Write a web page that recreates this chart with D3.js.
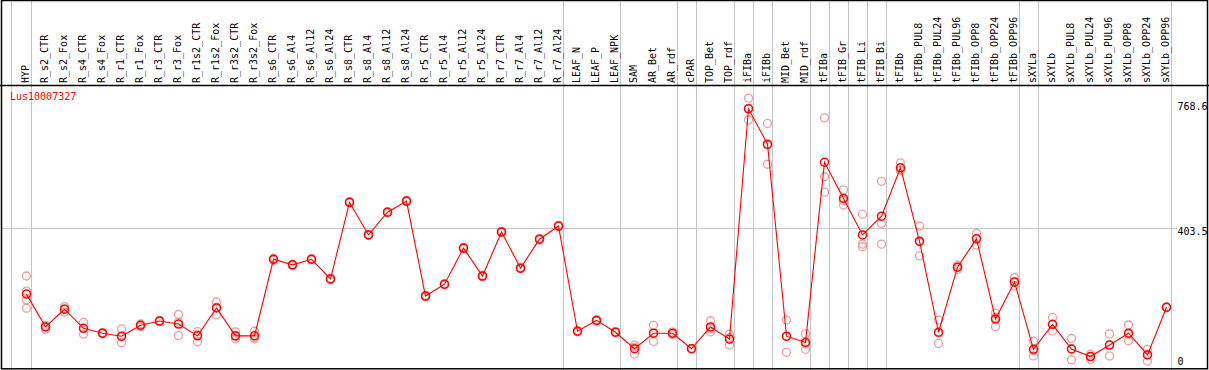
<!DOCTYPE html>
<html><head><meta charset="utf-8">
<script src="https://cdn.jsdelivr.net/npm/d3@7/dist/d3.min.js"></script>
<style>
html,body{margin:0;padding:0;background:#fff;}
svg{display:block;}
text{font-family:"DejaVu Sans Mono","Liberation Mono",monospace;font-size:10px;}
</style></head>
<body>
<script>
const geneName = "Lus10007327";
const categories = ["HYP","R_s2_CTR","R_s2_Fox","R_s4_CTR","R_s4_Fox","R_r1_CTR","R_r1_Fox","R_r3_CTR","R_r3_Fox","R_r1s2_CTR","R_r1s2_Fox","R_r3s2_CTR","R_r3s2_Fox","R_s6_CTR","R_s6_Al4","R_s6_Al12","R_s6_Al24","R_s8_CTR","R_s8_Al4","R_s8_Al12","R_s8_Al24","R_r5_CTR","R_r5_Al4","R_r5_Al12","R_r5_Al24","R_r7_CTR","R_r7_Al4","R_r7_Al12","R_r7_Al24","LEAF_N","LEAF_P","LEAF_NPK","SAM","AR_Bet","AR_rdf","cPAR","TOP_Bet","TOP_rdf","iFIBa","iFIBb","MID_Bet","MID_rdf","tFIBa","tFIB_Gr","tFIB_Li","tFIB_Bi","tFIBb","tFIBb_PUL8","tFIBb_PUL24","tFIBb_PUL96","tFIBb_OPP8","tFIBb_OPP24","tFIBb_OPP96","sXYLa","sXYLb","sXYLb_PUL8","sXYLb_PUL24","sXYLb_PUL96","sXYLb_OPP8","sXYLb_OPP24","sXYLb_OPP96"];
const means = [205,105,159,101,86,77,110,123,114,78,163,78,78,311,294,311,251,484,385,454,488,199,235,345,260,394,284,372,412,92,125,89,39,86,86,39,105,68,768.6,661,77,58,606,496,385,442,589,366,89,287,373,129,242,37,113,38,15,50,86,20,165];
const replicates = [
 [260,214,187,162],[110,98,107],[167,160,150],[119,101,83],[88,84,86],[99,75,57],[114,106,110],[125,121,123],[143,120,79],[91,82,60],[181,165,142],[90,70,76],[92,70,74],
 [314,308,311],[296,291,294],[313,309,311],[253,249,251],[486,482,484],[387,383,385],[456,452,454],[490,486,488],[201,197,199],[237,233,235],[347,343,345],[262,258,260],[396,392,394],[286,282,284],[374,370,372],[414,410,412],
 [94,90,92],[127,123,125],[91,87,89],[50,23,44],[110,86,61],[90,82,85],[40,38,39],[124,100,90],[83,72,50],
 [801,770,735],[724,658,600],[126,76,28],[84,53,37],[741,562,515],[522,490,476],[448,357,349],[548,420,357],
 [604,582,583],[412,364,321],[126,86,55],[293,280,287],[390,374,354],[147,134,106],[255,241,230],
 [62,33,17],[134,113,93],[70,39,5],[22,15,6],[84,50,17],[111,83,63],[37,22,1],[166,164,165]
];
const groupEnds = [0,28,31,34,35,37,38,39,41,42,43,44,45,52,53,60];
const yTicks = [0, 403.5, 768.6];
const yTickLabels = ["0","403.5","768.6"];
const gridValue = 403.5;

const W = 1209, H = 370;
const svg = d3.select("body").append("svg").attr("width", W).attr("height", H);

const x = d3.scalePoint().domain(categories).range([26.5, 1166.5]);
const y = d3.scaleLinear().domain([0, 768.6]).range([361.5, 108.8]);

// vertical separators
const sepX = [x(categories[0]) - 16].concat(groupEnds.map(i => x(categories[i]) + 4));
svg.append("g").selectAll("line").data(sepX).join("line")
  .attr("x1", d => Math.round(d) + 0.5).attr("x2", d => Math.round(d) + 0.5)
  .attr("y1", 0).attr("y2", H).attr("stroke", "#c4c4c4").attr("stroke-width", 1);

// horizontal gridline
const gy = Math.floor(y(gridValue)) + 0.5;
svg.append("line").attr("x1", 1).attr("x2", 1177).attr("y1", gy).attr("y2", gy)
  .attr("stroke", "#c4c4c4").attr("stroke-width", 1);

// category labels
svg.append("g").selectAll("text").data(categories).join("text")
  .attr("transform", d => `translate(${x(d) + 2.5},83) rotate(-90)`)
  .attr("text-anchor", "start").attr("fill", "#000").text(d => d);

// header separator and frame
svg.append("line").attr("x1", 0).attr("x2", W).attr("y1", 85.5).attr("y2", 85.5).attr("stroke", "#000").attr("stroke-width", 1.3);
svg.append("rect").attr("x", 1.5).attr("y", 0.5).attr("width", 1206).attr("height", 368.3)
  .attr("fill", "none").attr("stroke", "#000").attr("stroke-width", 1.5);

// y labels
const labelOffsets = [0, 3.5, -2];
svg.append("g").selectAll("text").data(yTicks).join("text")
  .attr("x", 1177.5).attr("y", (d, i) => y(d) + labelOffsets[i])
  .attr("dominant-baseline", "middle").attr("fill", "#000").text((d, i) => yTickLabels[i]);

// gene name
svg.append("text").attr("x", 10).attr("y", 100).attr("fill", "#ff0000").text(geneName);

// replicates
const repData = [];
replicates.forEach((r, i) => r.forEach(v => repData.push({c: categories[i], v})));
svg.append("g").selectAll("circle").data(repData).join("circle")
  .attr("cx", d => x(d.c)).attr("cy", d => y(d.v)).attr("r", 4)
  .attr("fill", "none").attr("stroke", "#ee9c9c").attr("stroke-width", 1.3);

// mean line
const line = d3.line().x((d, i) => x(categories[i])).y(d => y(d));
svg.append("path").datum(means).attr("d", line).attr("fill", "none").attr("stroke", "#ff0000").attr("stroke-width", 1.1);

// mean markers
svg.append("g").selectAll("circle").data(means).join("circle")
  .attr("cx", (d, i) => x(categories[i])).attr("cy", d => y(d)).attr("r", 4)
  .attr("fill", "none").attr("stroke", "#ff0000").attr("stroke-width", 1.5);
</script>
</body></html>
